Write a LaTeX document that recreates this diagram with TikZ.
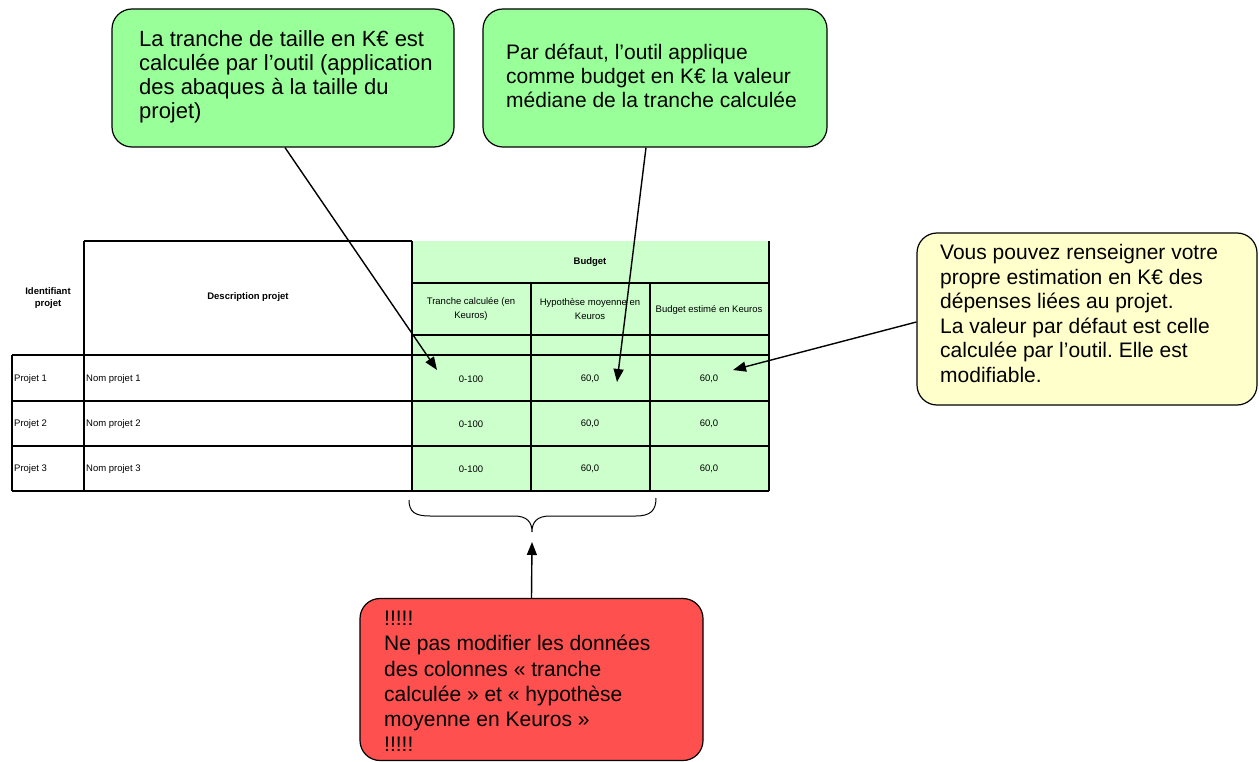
\documentclass[tikz,border=0pt]{standalone}
\usepackage{fontspec}
\setmainfont{Liberation Sans}
\usetikzlibrary{arrows.meta}
\definecolor{boxgreen}{HTML}{99FF99}
\definecolor{cellgreen}{HTML}{CCFFCC}
\definecolor{boxyellow}{HTML}{FFFFCC}
\definecolor{boxred}{HTML}{FF5050}
\frenchspacing
\tikzset{
  callout/.style={draw=black, line width=1.2pt, rounded corners=20pt, inner sep=0pt},
  ctext/.style={align=left, inner sep=0pt, anchor=west, font=\fontsize{21}{24.3}\selectfont},
  tline/.style={line width=1.6pt},
  hb/.style={align=center, inner sep=0pt, font=\fontsize{9.5}{12}\selectfont\bfseries},
  ht/.style={align=center, inner sep=0pt, font=\fontsize{9.5}{14}\selectfont},
  rt/.style={inner sep=0pt, font=\fontsize{9.5}{11}\selectfont},
  arr/.style={line width=1.4pt, -{Triangle[length=13pt,width=10pt]}},
}
\begin{document}
\begin{tikzpicture}[x=1pt,y=-1pt]
\useasboundingbox (0,0) rectangle (1259,762);
% table background
\fill[cellgreen] (412,241) rectangle (769,491);
% table lines
\draw[tline] (84,241) -- (412,241);
\draw[tline] (412,283) -- (769,283);
\draw[tline] (412,335) -- (769,335);
\draw[tline] (12,355) -- (769,355);
\draw[tline] (12,401) -- (769,401);
\draw[tline] (12,446) -- (769,446);
\draw[tline] (12,491) -- (769,491);
\draw[tline] (12,355) -- (12,491);
\draw[tline] (84,241) -- (84,491);
\draw[tline] (412,241) -- (412,491);
\draw[tline] (531,283) -- (531,491);
\draw[tline] (650,283) -- (650,491);
\draw[line width=2.6pt] (769,241) -- (769,491);
% headers
\node[hb] (hid) at (48,298) {Identifiant\\projet};
\node[hb] (hdesc) at (248,297) {Description projet};
\node[hb] (hbud) at (590,262) {Budget};
\node[ht] (h1) at (471,309) {Tranche calculée (en\\Keuros)};
\node[ht] (h2) at (590,309) {Hypothèse moyenne en\\Keuros};
\node[ht] (h3) at (709,310) {Budget estimé en Keuros};
% rows
\node[rt, anchor=west] (p1) at (14,379) {Projet 1};
\node[rt, anchor=west] (p2) at (14,424) {Projet 2};
\node[rt, anchor=west] (p3) at (14,469) {Projet 3};
\node[rt, anchor=west] (n1) at (86,379) {Nom projet 1};
\node[rt, anchor=west] (n2) at (86,424) {Nom projet 2};
\node[rt, anchor=west] (n3) at (86,469) {Nom projet 3};
\node[rt] (a1) at (471,379) {0-100};
\node[rt] (a2) at (471,424) {0-100};
\node[rt] (a3) at (471,469) {0-100};
\node[rt] (b1) at (590,379) {60,0};
\node[rt] (b2) at (590,424) {60,0};
\node[rt] (b3) at (590,469) {60,0};
\node[rt] (d1) at (709,379) {60,0};
\node[rt] (d2) at (709,424) {60,0};
\node[rt] (d3) at (709,469) {60,0};
% callouts
\node[callout, fill=boxgreen, minimum width=342pt, minimum height=138pt] (c1) at (283,78) {};
\node[ctext, font=\fontsize{22}{24.2}\selectfont] (c1t) at (139,77) {La tranche de taille en K€ est\\calculée par l’outil (application\\des abaques à la taille du\\projet)};
\node[callout, fill=boxgreen, minimum width=344pt, minimum height=138pt] (c2) at (655,78) {};
\node[ctext] (c2t) at (506,76) {Par défaut, l’outil applique\\comme budget en K€ la valeur\\médiane de la tranche calculée};
\node[callout, fill=boxyellow, minimum width=340pt, minimum height=172pt] (c3) at (1087,319) {};
\node[ctext, font=\fontsize{21}{24.6}\selectfont] (c3t) at (940,313.5) {Vous pouvez renseigner votre\\propre estimation en K€ des\\dépenses liées au projet.\\La valeur par défaut est celle\\calculée par l’outil. Elle est\\modifiable.};
\node[callout, fill=boxred, minimum width=343pt, minimum height=162pt] (c4) at (531.5,679.5) {};
\node[ctext, font=\fontsize{21}{25.3}\selectfont] (c4t) at (384,681.5) {!!!!!\\Ne pas modifier les données\\des colonnes « tranche\\calculée » et « hypothèse\\moyenne en Keuros »\\!!!!!};
% brace
\draw[line width=1pt] (409,500) .. controls (409,512) and (415,516) .. (430,516) -- (514,516) .. controls (527,516) and (532,522) .. (532,532)
  .. controls (532,522) and (537,516) .. (550,516) -- (636,516) .. controls (651,516) and (656,510) .. (656,498);
% arrow tips
\coordinate (t1) at (437,370);
\coordinate (t2) at (617,382);
\coordinate (t3) at (733,370);
\coordinate (t4) at (532,542);
\draw[arr] ([xshift=2pt]c1.south) -- (t1);
\draw[arr] ([xshift=-9pt]c2.south) -- (t2);
\draw[arr] ([yshift=-3pt]c3.west) -- (t3);
\draw[arr] (c4.north) -- (t4);
\end{tikzpicture}
\end{document}
